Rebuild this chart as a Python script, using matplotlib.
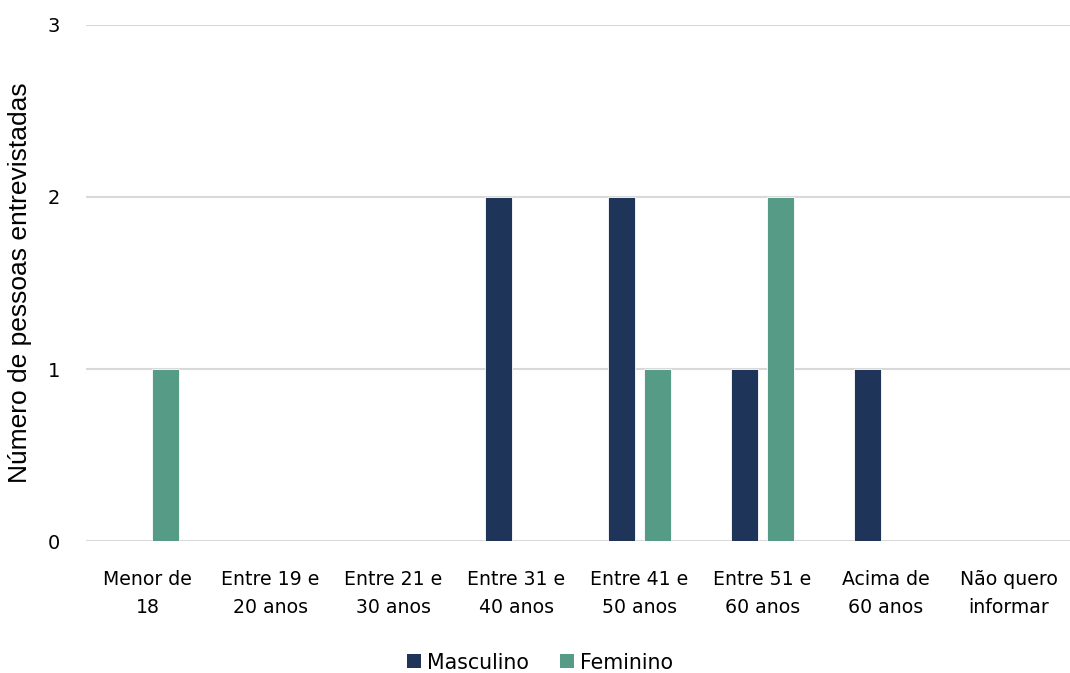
import matplotlib
matplotlib.use("Agg")
import matplotlib.pyplot as plt
from matplotlib.patches import Patch
import numpy as np

categories = ["Menor de\n18", "Entre 19 e\n20 anos", "Entre 21 e\n30 anos", "Entre 31 e\n40 anos",
              "Entre 41 e\n50 anos", "Entre 51 e\n60 anos", "Acima de\n60 anos", "Não quero\ninformar"]
masculino = [0, 0, 0, 2, 2, 1, 1, 0]
feminino = [1, 0, 0, 0, 1, 2, 0, 0]
y_ticks = [0, 1, 2, 3]

c_masc = "#1E3559"
c_fem = "#559B86"
grid_c = "#D9D9D9"

plt.rcParams["font.family"] = ["DejaVu Sans"]

fig = plt.figure(figsize=(10.7, 6.73), dpi=100)
ax = fig.add_axes([0.0804, 0.196, 0.9196, 0.767])

x = np.arange(len(categories))
w = 0.225
off = 0.146
ax.bar(x - off, masculino, width=w, color=c_masc, edgecolor="white", linewidth=0.6, zorder=3)
ax.bar(x + off, feminino, width=w, color=c_fem, edgecolor="white", linewidth=0.6, zorder=3)

ax.set_xlim(-0.5, len(categories) - 0.5)
ax.set_ylim(0, 3)
ax.set_yticks(y_ticks)
ax.set_yticklabels([str(t) for t in y_ticks], fontsize=14)
for t in y_ticks:
    ax.axhline(t, color=grid_c, linewidth=1.5, zorder=1)

ax.set_xticks(x)
ax.set_xticklabels(categories, fontsize=13.6, linespacing=1.58)
ax.tick_params(axis="both", length=0, colors="black")
ax.tick_params(axis="x", pad=21)
ax.tick_params(axis="y", pad=18.5)
for s in ax.spines.values():
    s.set_visible(False)

ax.set_ylabel("Número de pessoas entrevistadas", fontsize=19,
              family=["Liberation Sans", "DejaVu Sans"])
ax.yaxis.set_label_coords(-0.0545, 0.5)

handles = [Patch(facecolor=c_masc, label="Masculino"), Patch(facecolor=c_fem, label="Feminino")]
fig.legend(handles=handles, loc="center", bbox_to_anchor=(0.505, 0.0155), ncol=2, frameon=False,
           fontsize=14.8, handlelength=0.68, handleheight=0.68, handletextpad=0.3, columnspacing=1.5)

fig.savefig("out.png", dpi=100, facecolor="white")
